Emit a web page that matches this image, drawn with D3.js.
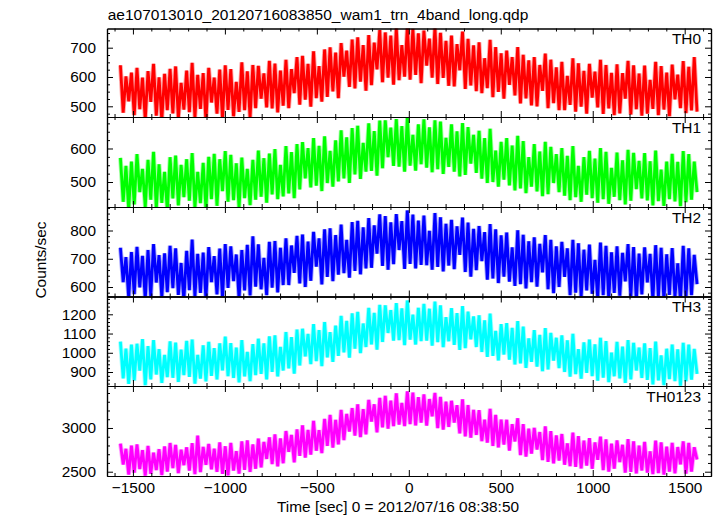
<!DOCTYPE html>
<html><head><meta charset="utf-8">
<script src="https://cdn.jsdelivr.net/npm/d3@7"></script>
<style>
body{margin:0;background:#fff;}
svg{display:block;font-family:"Liberation Sans",Arial,Helvetica,sans-serif;}
</style>
</head><body>
<svg id="chart" width="717" height="516"></svg>
<script>
// ---------- data ----------
const title = "ae107013010_20120716083850_wam1_trn_4band_long.qdp";
const xLabel = "Time [sec] 0 = 2012/07/16 08:38:50";
const yLabel = "Counts/sec";
const panelNames = ["TH0", "TH1", "TH2", "TH3", "TH0123"];
const tStart = -1568;   // time of first bin (s)
const tStep = 15;       // bin width (s)
const xTickValues = [-1500, -1000, -500, 0, 500, 1000, 1500];
const yTickValues = [[500, 600, 700], [500, 600], [600, 700, 800], [900, 1000, 1100, 1200], [2500, 3000]];
const yMinorStep = [25, 25, 20, 20, 100];
const yRanges = [[463.5, 765.5], [425.4, 694], [566.4, 883.2], [827.2, 1292.6], [2451, 3480]];

const th0 = [
640,478,602,517,615, 470,631,490,598,455, 620,515,645,468,599, 452,611,487,628,476,
636,459,580,489,622, 480,648,462,607,491, 613,450,631,513,598, 475,625,458,640,488,
627,466,583,481,650, 487,619,462,641,494, 638,526,612,496,655, 493,646,479,622,502,
659,494,627,545,668, 506,672,523,645,499, 688,528,637,516,694, 532,701,551,683,528,
716,601,690,566,728, 561,735,584,709,553, 743,572,717,626,760, 582,752,598,741,574,
767,589,709,601,772, 591,764,607,749,579, 758,639,731,598,770, 576,751,597,723,570,
741,568,712,623,755, 559,730,571,708,552, 718,545,664,562,727, 531,702,549,681,526,
690,573,668,537,702, 510,676,527,657,503, 668,500,641,553,680, 494,659,511,633,487,
652,487,604,505,664, 482,647,499,621,475, 645,530,618,496,659, 474,641,493,614,470,
643,476,613,526,655, 472,640,490,612,468, 639,475,590,491,652, 470,637,489,615,466,
642,524,608,494,654, 477,635,486,668,482];

const th1 = [
572,441,548,418,561, 433,583,470,539,426, 566,447,590,421,553, 438,530,416,574,451,
579,430,551,455,568, 444,586,424,530,437, 557,419,575,449,584, 429,568,473,592,441,
581,446,556,423,573, 452,539,431,566,447, 594,456,571,438,585, 463,598,449,551,457,
607,466,589,452,613, 478,619,511,601,484, 631,489,608,473,636, 497,593,486,624,502,
654,511,633,497,661, 523,668,509,617,531, 675,533,652,519,683, 541,684,574,662,548,
688,546,667,531,692, 549,641,534,672,553, 687,543,663,529,684, 538,680,524,632,545,
672,531,651,517,676, 521,664,555,641,527, 653,510,631,497,659, 500,594,486,620,507,
631,490,609,475,638, 481,622,467,574,486, 613,472,591,458,620, 464,605,497,583,470,
601,459,578,446,607, 455,548,441,574,462, 593,452,570,438,601, 449,590,435,542,456,
588,446,565,433,596, 444,587,479,563,451, 586,445,562,430,594, 443,537,429,561,449,
584,442,560,428,592, 440,583,447,561,470];

const th2 = [
739,617,706,561,724, 575,742,599,710,556, 731,567,752,616,713, 563,719,582,746,596,
737,572,685,553,728, 589,768,566,717,579, 722,558,741,617,709, 574,736,561,752,597,
744,621,715,558,731, 588,749,570,779,601, 751,592,703,571,760, 598,763,581,739,607,
772,607,747,650,781, 613,786,600,761,622, 795,672,772,609,804, 636,808,621,784,644,
821,649,767,633,830, 657,834,645,811,666, 844,668,818,718,857, 675,851,661,829,681,
858,731,833,664,871, 682,856,666,835,678, 853,677,799,661,862, 671,847,655,824,676,
838,663,815,714,846, 653,828,637,806,660, 816,692,794,626,823, 630,804,614,783,637,
793,619,740,604,801, 610,785,595,762,617, 776,601,753,652,784, 592,767,578,744,600,
760,636,737,571,767, 580,755,565,732,588, 750,576,696,561,757, 571,746,557,723,579,
744,569,721,620,752, 566,741,553,718,574, 740,616,717,552,748, 564,739,551,716,572,
738,563,684,550,746, 562,737,571,714,610];

const th3 = [
1058,867,1021,838,1042, 856,1047,907,1071,831, 1035,862,1066,887,1019, 843,989,873,1059,870,
1053,848,1016,884,1062, 875,1069,839,989,866, 1039,851,1057,880,1024, 861,1049,908,1084,878,
1050,869,1027,846,1066, 877,1004,852,1045,884, 1073,890,1049,862,1085, 901,1090,877,1030,908,
1108,919,1081,892,1121, 934,1125,981,1098,941, 1149,957,1118,931,1160, 976,1107,953,1141,984,
1192,1002,1166,975,1205, 1021,1213,998,1152,1030, 1233,1043,1207,1016,1249, 1056,1247,1103,1222,1063,
1258,1066,1231,1040,1272, 1068,1198,1043,1234,1061, 1254,1063,1229,1037,1266, 1055,1246,1029,1185,1060,
1232,1041,1206,1015,1243, 1024,1214,1070,1189,1030, 1195,1004,1169,979,1204, 984,1114,960,1149,991,
1154,964,1129,939,1165, 945,1136,921,1075,953, 1118,928,1093,904,1128, 913,1103,959,1078,920,
1090,900,1065,876,1099, 889,1019,865,1054,896, 1069,879,1044,855,1078, 871,1061,847,1001,878,
1057,867,1032,843,1066, 862,1052,908,1027,869, 1049,859,1024,835,1058, 856,986,832,1021,863,
1043,853,1018,829,1052, 852,1042,860,1020,890];

const th0123 = [
2821,2583,2762,2467,2799, 2489,2812,2531,2747,2455, 2795,2476,2718,2519,2758, 2462,2789,2502,2828,2541,
2807,2483,2751,2575,2779, 2514,2826,2471,2912,2496, 2784,2578,2817,2527,2763, 2498,2835,2476,2791,2459,
2829,2512,2736,2478,2846, 2521,2858,2497,2812,2534, 2879,2549,2841,2646,2893, 2588,2927,2561,2881,2597,
2965,2727,2920,2608,2983, 2682,3031,2661,2977,2695, 3082,2740,2976,2712,3104, 2795,3150,2776,3093,2812,
3206,2861,3161,2960,3228, 2914,3271,2896,3216,2928, 3322,3073,3271,2950,3343, 3008,3368,2992,3313,3021,
3397,3039,3286,3022,3418, 3045,3405,3029,3352,3061, 3384,3027,3331,3134,3401, 2998,3356,2981,3301,3012,
3311,3061,3260,2938,3328, 2905,3262,2889,3208,2921, 3203,2849,3094,2832,3220, 2794,3149,2777,3096,2810,
3094,2742,3044,2846,3111, 2690,3043,2673,2992,2706, 3002,2754,2953,2633,3018, 2612,2964,2595,2914,2628,
2931,2580,2824,2563,2947, 2555,2906,2537,2856,2571, 2884,2534,2835,2637,2900, 2519,2869,2501,2820,2535,
2857,2610,2808,2489,2873, 2498,2848,2480,2799,2514, 2840,2490,2733,2472,2856, 2485,2835,2467,2786,2501,
2831,2481,2782,2584,2847, 2479,2829,2500,2780,2640];

const seriesList = [th0, th1, th2, th3, th0123];
const seriesColors = ["#ff0000", "#00ff00", "#0000ff", "#00ffff", "#ff00ff"];

// ---------- layout ----------
const left = 107, right = 711;
const bounds = [28.5, 117, 207, 296.5, 386, 476];
const fs = 15.4;
const fontFam = "Liberation Sans, Arial, Helvetica, sans-serif";

const svg = d3.select("#chart");
const defs = svg.append("defs");

const x = d3.scaleLinear().domain([-1641, 1643]).range([left, right]);
const xMinor = d3.range(-1600, 1601, 100).filter(v => v % 500 !== 0);

function styleAxis(g) {
  g.attr("font-size", fs).attr("font-family", fontFam);
  g.selectAll("path.domain").attr("stroke", "#000").attr("stroke-width", 1.2);
  g.selectAll(".tick line").attr("stroke", "#000").attr("stroke-width", 1);
  g.selectAll(".tick text").attr("fill", "#000");
}

seriesList.forEach((vals, k) => {
  const top = bounds[k], bot = bounds[k + 1];
  const y = d3.scaleLinear().domain(yRanges[k]).range([bot, top]);

  defs.append("clipPath").attr("id", "clip" + k)
    .append("rect").attr("x", left).attr("y", top).attr("width", right - left).attr("height", bot - top);

  const line = d3.line()
    .x((d, i) => x(tStart + i * tStep))
    .y(d => y(d));

  const pg = svg.append("g").attr("clip-path", `url(#clip${k})`);
  // pale anti-aliased fringe
  pg.append("path")
    .datum(vals)
    .attr("fill", "none")
    .attr("stroke", seriesColors[k])
    .attr("stroke-opacity", 0.35)
    .attr("stroke-width", 4.6)
    .attr("stroke-linejoin", "bevel")
    .attr("d", line);
  pg.append("path")
    .datum(vals)
    .attr("fill", "none")
    .attr("stroke", seriesColors[k])
    .attr("stroke-width", 2.8)
    .attr("stroke-linejoin", "bevel")
    .attr("d", line);

  const [d0, d1] = yRanges[k];
  const st = yMinorStep[k];
  const major = yTickValues[k];
  const minor = d3.range(Math.ceil(d0 / st) * st, d1, st).filter(v => !major.includes(v));
  const last = k === seriesList.length - 1;

  const axes = [
    [left, 0, d3.axisLeft(y).tickValues(major).tickSize(-6).tickPadding(11).tickFormat(d3.format("d"))],
    [left, 0, d3.axisLeft(y).tickValues(minor).tickSize(-3).tickFormat("")],
    [right, 0, d3.axisRight(y).tickValues(major).tickSize(-6).tickFormat("")],
    [right, 0, d3.axisRight(y).tickValues(minor).tickSize(-3).tickFormat("")],
    [0, top, d3.axisTop(x).tickValues(xTickValues).tickSize(-6).tickFormat("")],
    [0, top, d3.axisTop(x).tickValues(xMinor).tickSize(-3).tickFormat("")],
    [0, bot, d3.axisBottom(x).tickValues(xTickValues).tickSize(-6).tickPadding(6.5).tickFormat(last ? d3.format("d") : "")],
    [0, bot, d3.axisBottom(x).tickValues(xMinor).tickSize(-3).tickFormat("")]
  ];
  axes.forEach(([tx, ty, ax]) => {
    svg.append("g").attr("transform", `translate(${tx},${ty})`)
      .call(ax.tickSizeOuter(0))
      .call(styleAxis);
  });

  svg.append("text")
    .attr("x", 701).attr("y", top + 15.5)
    .attr("text-anchor", "end")
    .attr("font-size", fs)
    .attr("fill", "#000")
    .text(panelNames[k]);
});

svg.append("text")
  .attr("x", 107.7).attr("y", 19.5)
  .attr("font-size", 15.5).attr("fill", "#000")
  .text(title);

svg.append("text")
  .attr("x", 398).attr("y", 511.5)
  .attr("text-anchor", "middle")
  .attr("font-size", fs).attr("fill", "#000")
  .text(xLabel);

svg.append("text")
  .attr("transform", "translate(46,260) rotate(-90)")
  .attr("text-anchor", "middle")
  .attr("font-size", fs).attr("fill", "#000")
  .text(yLabel);
</script>
</body></html>
